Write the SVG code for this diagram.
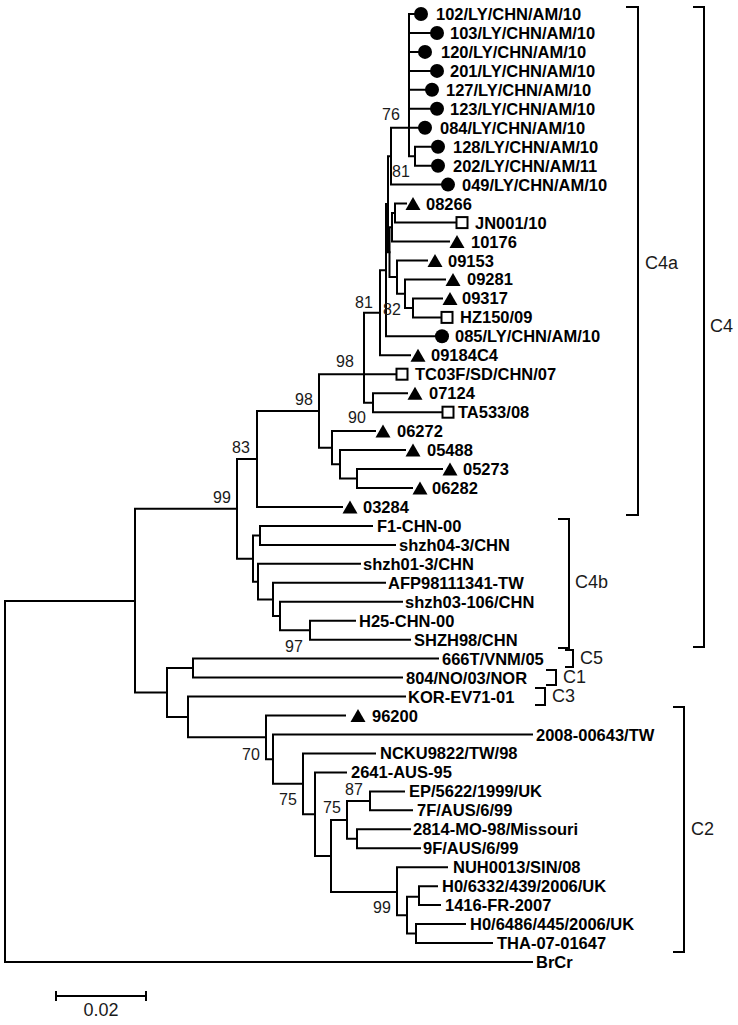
<svg xmlns="http://www.w3.org/2000/svg" xmlns:xlink="http://www.w3.org/1999/xlink" width="738" height="1025" viewBox="0 0 738 1025">
<style>
.t{font-family:"Liberation Sans",Arial,sans-serif;font-weight:bold;font-size:16.5px;fill:#000}
.b{font-family:"Liberation Sans",Arial,sans-serif;font-size:16px;fill:#1a1a1a}
.c{font-family:"Liberation Sans",Arial,sans-serif;font-size:18px;fill:#1a1a1a}
.ln{fill:none;stroke:#000;stroke-width:2;stroke-linecap:square}
.br{fill:none;stroke:#000;stroke-width:2}
</style>
<defs>
<circle id="ci" r="7" fill="#000"/>
<path id="tr" d="M-7.5,6.5 L7.5,6.5 L0,-6.5 Z" fill="#000"/>
<rect id="sq" x="-5.5" y="-5.5" width="11" height="11" fill="#fff" stroke="#000" stroke-width="2"/>
</defs>
<rect width="738" height="1025" fill="#fff"/>
<g id="connectors" class="ln">
<path d="M5 601V962M5 601H135M5 962H532"/>
<path d="M135 508.7V692.5M135 508.7H237M135 692.5H167"/>
<path d="M237 459V558.7M237 459H257M237 558.7H253"/>
<path d="M257 411V507M257 411H319M257 507H342"/>
<path d="M319 374.2V447.7M319 374.2H364M319 447.7H332"/>
<path d="M364 312.7V402.7M364 312.7H380M364 374.2H396M364 402.7H373"/>
<path d="M373 393.2V412.2M373 393.2H407M373 412.2H442"/>
<path d="M332 431.1V464.3M332 431.1H375M332 464.3H340"/>
<path d="M340 450.1V478.5M340 450.1H405M340 478.5H357"/>
<path d="M357 469V488M357 469H442M357 488H412"/>
<path d="M380 270.2V355.3M380 270.2H386M380 355.3H410"/>
<path d="M386 204V336.3M386 204H388M386 336.3H435"/>
<path d="M388 156.2V252.2M388 156.2H391M388 252.2H389.5"/>
<path d="M391 127.8V184.6M391 127.8H409M391 184.6H441"/>
<path d="M409 14V156.2M409 14H414M409 33H430M409 51.9H418M409 70.9H430M409 89.8H425M409 108.8H430M409 127.8H418M409 156.2H415"/>
<path d="M415 146.7V165.7M415 146.7H431M415 165.7H431"/>
<path d="M389.5 227.3V277.1M389.5 227.3H392M389.5 277.1H397"/>
<path d="M392 213.1V241.5M392 213.1H395M392 241.5H449"/>
<path d="M395 203.6V222.6M395 203.6H406M395 222.6H456"/>
<path d="M397 260.5V293.7M397 260.5H427M397 293.7H405"/>
<path d="M405 279.4V307.9M405 279.4H445M405 307.9H413"/>
<path d="M413 298.4V317.4M413 298.4H442M413 317.4H441"/>
<path d="M253 535.4V581.7M253 535.4H260M253 581.7H258"/>
<path d="M260 525.9V544.9M260 525.9H372M260 544.9H395"/>
<path d="M258 563.8V599.5M258 563.8H360M258 599.5H273"/>
<path d="M273 582.8V616M273 582.8H385M273 616H280"/>
<path d="M280 601.8V630.2M280 601.8H402M280 630.2H310"/>
<path d="M310 620.7V639.7M310 620.7H355M310 639.7H410"/>
<path d="M167 668.1V717M167 668.1H193M167 717H188"/>
<path d="M193 658.6V677.6M193 658.6H438M193 677.6H402"/>
<path d="M188 696.6V737.3M188 696.6H405M188 737.3H266"/>
<path d="M266 715.5V759.2M266 715.5H345M266 759.2H273"/>
<path d="M273 734.5V783.8M273 734.5H532M273 783.8H303"/>
<path d="M303 753.4V814.2M303 753.4H375M303 814.2H315"/>
<path d="M315 772.4V856M315 772.4H346M315 856H331"/>
<path d="M331 820V892M331 820H347M331 892H397"/>
<path d="M347 800.9V838.8M347 800.9H370M347 838.8H357"/>
<path d="M370 791.4V810.3M370 791.4H404M370 810.3H412"/>
<path d="M357 829.3V848.2M357 829.3H410M357 848.2H420"/>
<path d="M397 867.2V915.3M397 867.2H447M397 915.3H407"/>
<path d="M407 896.7V933.6M407 896.7H419M407 933.6H416"/>
<path d="M419 886.2V905.1M419 886.2H437M419 905.1H440"/>
<path d="M416 924.1V943M416 924.1H465M416 943H492"/>
</g>
<g id="bootstrap">
<text class="b" x="382" y="120">76</text>
<text class="b" x="392" y="177">81</text>
<text class="b" x="355" y="308">81</text>
<text class="b" x="383" y="315">82</text>
<text class="b" x="336" y="367">98</text>
<text class="b" x="295" y="405">98</text>
<text class="b" x="348" y="423">90</text>
<text class="b" x="232" y="453">83</text>
<text class="b" x="213" y="503">99</text>
<text class="b" x="285" y="652">97</text>
<text class="b" x="242" y="760">70</text>
<text class="b" x="279" y="805">75</text>
<text class="b" x="345" y="795">87</text>
<text class="b" x="323" y="813">75</text>
<text class="b" x="373" y="913">99</text>
</g>
<g id="n1"><use href="#ci" x="421" y="14"/><text class="t" x="436" y="20">102/LY/CHN/AM/10</text></g>
<g id="n2"><use href="#ci" x="437" y="33"/><text class="t" x="450" y="39">103/LY/CHN/AM/10</text></g>
<g id="n3"><use href="#ci" x="425" y="51.9"/><text class="t" x="441" y="57.9">120/LY/CHN/AM/10</text></g>
<g id="n4"><use href="#ci" x="437" y="70.9"/><text class="t" x="450" y="76.9">201/LY/CHN/AM/10</text></g>
<g id="n5"><use href="#ci" x="432" y="89.8"/><text class="t" x="446" y="95.8">127/LY/CHN/AM/10</text></g>
<g id="n6"><use href="#ci" x="437" y="108.8"/><text class="t" x="450" y="114.8">123/LY/CHN/AM/10</text></g>
<g id="n7"><use href="#ci" x="425" y="127.8"/><text class="t" x="440" y="133.8">084/LY/CHN/AM/10</text></g>
<g id="n8"><use href="#ci" x="438" y="146.7"/><text class="t" x="453" y="152.7">128/LY/CHN/AM/10</text></g>
<g id="n9"><use href="#ci" x="438" y="165.7"/><text class="t" x="453" y="171.7">202/LY/CHN/AM/11</text></g>
<g id="n10"><use href="#ci" x="448" y="184.6"/><text class="t" x="462" y="190.6">049/LY/CHN/AM/10</text></g>
<g id="n11"><use href="#tr" x="413" y="203.6"/><text class="t" x="426" y="209.6">08266</text></g>
<g id="n12"><use href="#sq" x="462" y="222.6"/><text class="t" x="475" y="228.6">JN001/10</text></g>
<g id="n13"><use href="#tr" x="457" y="241.5"/><text class="t" x="471" y="247.5">10176</text></g>
<g id="n14"><use href="#tr" x="435" y="260.5"/><text class="t" x="448" y="266.5">09153</text></g>
<g id="n15"><use href="#tr" x="453" y="279.4"/><text class="t" x="467" y="285.4">09281</text></g>
<g id="n16"><use href="#tr" x="450" y="298.4"/><text class="t" x="462" y="304.4">09317</text></g>
<g id="n17"><use href="#sq" x="447" y="317.4"/><text class="t" x="460" y="323.4">HZ150/09</text></g>
<g id="n18"><use href="#ci" x="442" y="336.3"/><text class="t" x="455" y="342.3">085/LY/CHN/AM/10</text></g>
<g id="n19"><use href="#tr" x="418" y="355.3"/><text class="t" x="431" y="361.3">09184C4</text></g>
<g id="n20"><use href="#sq" x="402" y="374.2"/><text class="t" x="415" y="380.2">TC03F/SD/CHN/07</text></g>
<g id="n21"><use href="#tr" x="415" y="393.2"/><text class="t" x="429" y="399.2">07124</text></g>
<g id="n22"><use href="#sq" x="448" y="412.2"/><text class="t" x="458" y="418.2">TA533/08</text></g>
<g id="n23"><use href="#tr" x="383" y="431.1"/><text class="t" x="397" y="437.1">06272</text></g>
<g id="n24"><use href="#tr" x="413" y="450.1"/><text class="t" x="427" y="456.1">05488</text></g>
<g id="n25"><use href="#tr" x="450" y="469"/><text class="t" x="463" y="475">05273</text></g>
<g id="n26"><use href="#tr" x="420" y="488"/><text class="t" x="432" y="494">06282</text></g>
<g id="n27"><use href="#tr" x="350" y="507"/><text class="t" x="363" y="513">03284</text></g>
<g id="n28"><text class="t" x="377" y="531.9">F1-CHN-00</text></g>
<g id="n29"><text class="t" x="399" y="550.9">shzh04-3/CHN</text></g>
<g id="n30"><text class="t" x="363" y="569.8">shzh01-3/CHN</text></g>
<g id="n31"><text class="t" x="388" y="588.8">AFP98111341-TW</text></g>
<g id="n32"><text class="t" x="405" y="607.8">shzh03-106/CHN</text></g>
<g id="n33"><text class="t" x="359" y="626.7">H25-CHN-00</text></g>
<g id="n34"><text class="t" x="414" y="645.7">SHZH98/CHN</text></g>
<g id="n35"><text class="t" x="442" y="664.6">666T/VNM/05</text></g>
<g id="n36"><text class="t" x="406" y="683.6">804/NO/03/NOR</text></g>
<g id="n37"><text class="t" x="408" y="702.6">KOR-EV71-01</text></g>
<g id="n38"><use href="#tr" x="358" y="715.5"/><text class="t" x="372" y="721.5">96200</text></g>
<g id="n39"><text class="t" x="536" y="740.5">2008-00643/TW</text></g>
<g id="n40"><text class="t" x="380" y="759.4">NCKU9822/TW/98</text></g>
<g id="n41"><text class="t" x="351" y="778.4">2641-AUS-95</text></g>
<g id="n42"><text class="t" x="409" y="797.4">EP/5622/1999/UK</text></g>
<g id="n43"><text class="t" x="417" y="816.3">7F/AUS/6/99</text></g>
<g id="n44"><text class="t" x="413" y="835.3">2814-MO-98/Missouri</text></g>
<g id="n45"><text class="t" x="423" y="854.2">9F/AUS/6/99</text></g>
<g id="n46"><text class="t" x="453" y="873.2">NUH0013/SIN/08</text></g>
<g id="n47"><text class="t" x="442" y="892.2">H0/6332/439/2006/UK</text></g>
<g id="n48"><text class="t" x="445" y="911.1">1416-FR-2007</text></g>
<g id="n49"><text class="t" x="470" y="930.1">H0/6486/445/2006/UK</text></g>
<g id="n50"><text class="t" x="497" y="949">THA-07-01647</text></g>
<g id="n51"><text class="t" x="536" y="968">BrCr</text></g>
<g id="clades">
<path class="br" d="M626 7H638V515H626"/>
<text class="c" x="645" y="268.5">C4a</text>
<path class="br" d="M693 7H704V647H693"/>
<text class="c" x="710" y="331.5">C4</text>
<path class="br" d="M558 519H569V648H558"/>
<text class="c" x="575" y="588">C4b</text>
<path class="br" d="M565 650H573V667H565"/>
<text class="c" x="580" y="664">C5</text>
<path class="br" d="M546 670H556V685H546"/>
<text class="c" x="563" y="683">C1</text>
<path class="br" d="M535 688H545V705H535"/>
<text class="c" x="552" y="702">C3</text>
<path class="br" d="M673 707H684V952H673"/>
<text class="c" x="691" y="835">C2</text>
</g>
<g id="scalebar">
<path class="br" d="M56 996H146M56 991V1001M146 991V1001"/>
<text class="c" x="101" y="1016" text-anchor="middle">0.02</text>
</g>
</svg>
